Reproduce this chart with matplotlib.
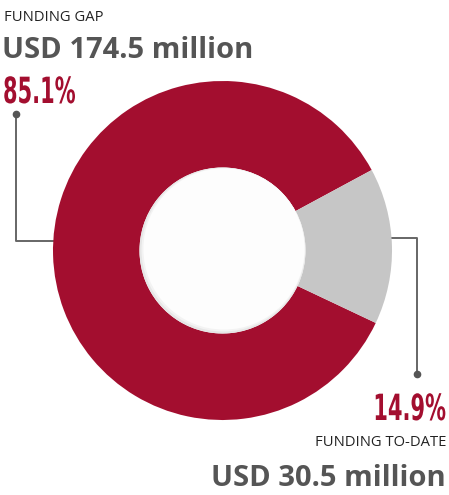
import matplotlib
matplotlib.use("Agg")
import matplotlib.pyplot as plt
from matplotlib.patches import Circle
from matplotlib.patheffects import AbstractPathEffect
from matplotlib.transforms import Affine2D

# ---- data ----
labels = ["Funding gap", "Funding to-date"]
shares = [85.1, 14.9]
amounts = ["USD 174.5 million", "USD 30.5 million"]
titles = ["FUNDING GAP", "FUNDING TO-DATE"]
colors = ["#A30E2F", "#C6C6C6"]

W, H = 449, 495
fig = plt.figure(figsize=(W / 100, H / 100), dpi=100)
ax = fig.add_axes([0, 0, 1, 1])

cx, cy, R = 222.5, 250.5, 169.5
hole = 83.0

ax.pie(shares, colors=colors, startangle=25.3, counterclock=True,
       center=(cx, cy), radius=R,
       wedgeprops=dict(width=R - hole, linewidth=0))
ax.set_xlim(0, W)
ax.set_ylim(H, 0)
ax.set_aspect("auto")
ax.axis("off")

# subtle inner shadow of the hole
ax.add_patch(Circle((cx, cy), hole, facecolor="#e6e6e6", edgecolor="none", zorder=3))
ax.add_patch(Circle((cx + 0.8, cy - 0.8), hole - 1.2, facecolor="#f3f3f3", edgecolor="none", zorder=4))
ax.add_patch(Circle((cx + 1.5, cy - 1.5), hole - 2.4, facecolor="#fdfdfd", edgecolor="none", zorder=5))

# leader lines
lc = "#666666"
ax.plot([16, 16, 60], [114, 241, 241], color=lc, lw=1.4, zorder=0, solid_capstyle="butt")
ax.plot([16], [114], "o", color="#555555", ms=4.5, zorder=6)
ax.plot([385, 417, 417], [238, 238, 374], color=lc, lw=1.4, zorder=0, solid_capstyle="butt")
ax.plot([417], [374], "o", color="#555555", ms=4.5, zorder=6)


class Condense(AbstractPathEffect):
    """Squeeze glyphs horizontally about a fixed x anchor (in pixels)."""
    def __init__(self, sx, x0):
        super().__init__()
        self.sx = sx
        self.x0 = x0

    def draw_path(self, renderer, gc, tpath, affine, rgbFace=None):
        extra = Affine2D().translate(-self.x0, 0).scale(self.sx, 1).translate(self.x0, 0)
        renderer.draw_path(gc, tpath, affine + extra, rgbFace)


red = colors[0]
dark = "#555555"
sans = ["Open Sans", "DejaVu Sans"]
cond = ["DejaVu Sans"]

# top-left block
ax.text(4, 21, titles[0], fontsize=10.6, color="#222222", family=sans, va="baseline", ha="left")
ax.text(2, 58, amounts[0], fontsize=21, fontweight="bold", color=dark, family=sans, va="baseline", ha="left")
ax.text(3, 103, f"{shares[0]}%", fontsize=26, fontweight="bold", color=red, family=cond,
        va="baseline", ha="left", path_effects=[Condense(0.58, 3)])

# bottom-right block
ax.text(446, 420, f"{shares[1]}%", fontsize=26, fontweight="bold", color=red, family=cond,
        va="baseline", ha="right", path_effects=[Condense(0.58, 446)])
ax.text(446, 446, titles[1], fontsize=10.6, color="#222222", family=sans, va="baseline", ha="right")
ax.text(446, 486, amounts[1], fontsize=21, fontweight="bold", color=dark, family=sans, va="baseline", ha="right")

fig.savefig("out.png", dpi=100, facecolor="white")
